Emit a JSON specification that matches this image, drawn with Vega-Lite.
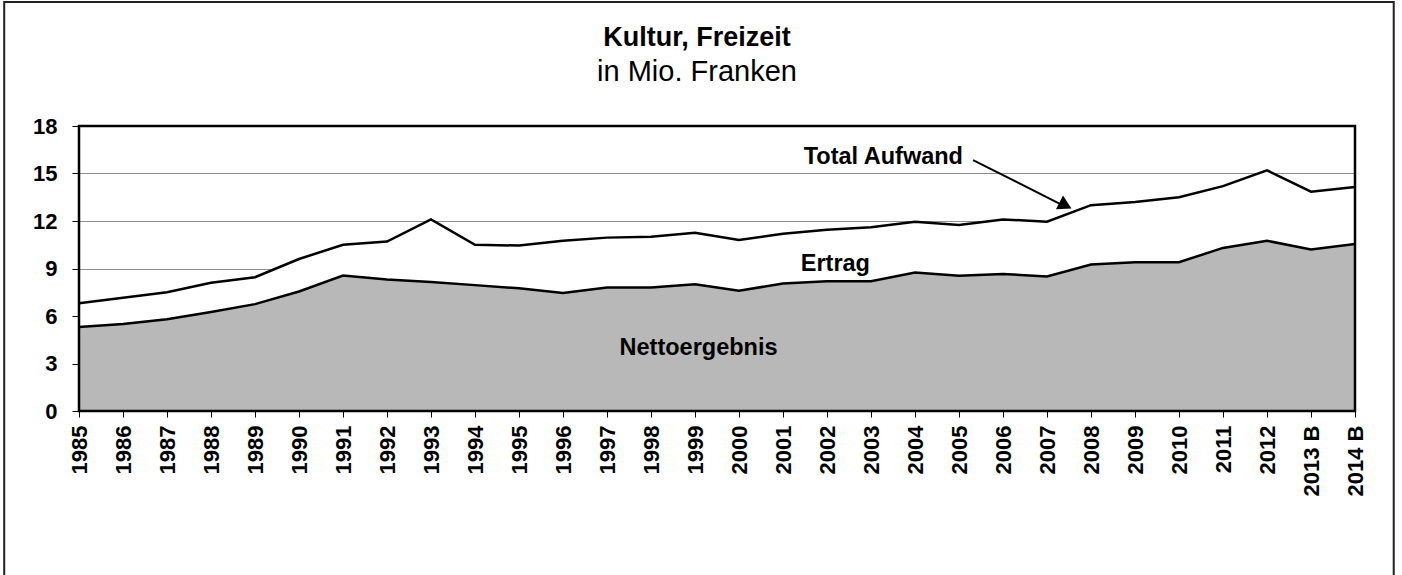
{
  "$schema": "https://vega.github.io/schema/vega-lite/v6.json",
  "width": 1276,
  "height": 285,
  "autosize": "none",
  "padding": {"left": 79, "top": 126, "right": 47, "bottom": 164},
  "background": "white",
  "title": {
    "text": "Kultur, Freizeit",
    "subtitle": "in Mio. Franken",
    "anchor": "middle",
    "dx": -20,
    "font": "Liberation Sans",
    "fontSize": 27,
    "fontWeight": "bold",
    "color": "black",
    "subtitleFont": "Liberation Sans",
    "subtitleFontSize": 29,
    "subtitleColor": "black",
    "subtitlePadding": 6,
    "offset": -87
  },
  "config": {
    "view": {"stroke": null},
    "font": "Liberation Sans",
    "axisX": {
      "labelFont": "Liberation Sans",
      "labelFontSize": 22,
      "labelFontWeight": "bold",
      "labelColor": "black",
      "labelPadding": 8,
      "labelOverlap": false,
      "labelFlush": false,
      "tickColor": "black",
      "tickSize": 6,
      "tickWidth": 1,
      "domain": false,
      "grid": false,
      "title": null
    },
    "axisY": {
      "grid": true,
      "gridColor": "#909090",
      "gridWidth": 1,
      "domain": false,
      "tickColor": "black",
      "tickSize": 7,
      "tickWidth": 1,
      "labelFont": "Liberation Sans",
      "labelFontSize": 22,
      "labelFontWeight": "bold",
      "labelColor": "black",
      "labelPadding": 15,
      "title": null
    }
  },
  "datasets": {
    "main": [
      {"year": 1985, "aufwand": 6.8, "netto": 5.3},
      {"year": 1986, "aufwand": 7.15, "netto": 5.5},
      {"year": 1987, "aufwand": 7.5, "netto": 5.8},
      {"year": 1988, "aufwand": 8.1, "netto": 6.25},
      {"year": 1989, "aufwand": 8.45, "netto": 6.75},
      {"year": 1990, "aufwand": 9.6, "netto": 7.55},
      {"year": 1991, "aufwand": 10.5, "netto": 8.55},
      {"year": 1992, "aufwand": 10.7, "netto": 8.3},
      {"year": 1993, "aufwand": 12.1, "netto": 8.15},
      {"year": 1994, "aufwand": 10.5, "netto": 7.95},
      {"year": 1995, "aufwand": 10.45, "netto": 7.75},
      {"year": 1996, "aufwand": 10.75, "netto": 7.45},
      {"year": 1997, "aufwand": 10.95, "netto": 7.8},
      {"year": 1998, "aufwand": 11.0, "netto": 7.8},
      {"year": 1999, "aufwand": 11.25, "netto": 8.0},
      {"year": 2000, "aufwand": 10.8, "netto": 7.6},
      {"year": 2001, "aufwand": 11.2, "netto": 8.05},
      {"year": 2002, "aufwand": 11.45, "netto": 8.2},
      {"year": 2003, "aufwand": 11.6, "netto": 8.2},
      {"year": 2004, "aufwand": 11.95, "netto": 8.75},
      {"year": 2005, "aufwand": 11.75, "netto": 8.55},
      {"year": 2006, "aufwand": 12.1, "netto": 8.65},
      {"year": 2007, "aufwand": 11.95, "netto": 8.5},
      {"year": 2008, "aufwand": 13.0, "netto": 9.25},
      {"year": 2009, "aufwand": 13.2, "netto": 9.4},
      {"year": 2010, "aufwand": 13.5, "netto": 9.4},
      {"year": 2011, "aufwand": 14.2, "netto": 10.3},
      {"year": 2012, "aufwand": 15.2, "netto": 10.75},
      {"year": 2013, "aufwand": 13.85, "netto": 10.2},
      {"year": 2014, "aufwand": 14.15, "netto": 10.55}
    ],
    "labels": [
      {"label": "Total Aufwand", "year": 2003.28, "value": 15.6},
      {"label": "Ertrag", "year": 2002.19, "value": 8.84},
      {"label": "Nettoergebnis", "year": 1999.08, "value": 3.54}
    ],
    "arrow": [
      {"x": 2005.32, "y": 15.85, "x2": 2007.35, "y2": 13.0}
    ],
    "arrowhead": [
      {"x": 2007.42, "y": 12.98}
    ],
    "plotframe": [
      {"x": 1985, "x2": 2014, "y": 0, "y2": 18}
    ],
    "outerframe": [
      {"x": 1983.3, "x2": 2014.88, "y": 25.83, "y2": -11}
    ]
  },
  "layer": [
    {
      "data": {"name": "main"},
      "mark": {"type": "area", "color": "white", "opacity": 1, "line": {"color": "black", "strokeWidth": 2.5}},
      "encoding": {
        "x": {
          "field": "year",
          "type": "quantitative",
          "title": null,
          "scale": {"domain": [1985, 2014], "nice": false, "zero": false},
          "axis": {
            "values": [1985,1986,1987,1988,1989,1990,1991,1992,1993,1994,1995,1996,1997,1998,1999,2000,2001,2002,2003,2004,2005,2006,2007,2008,2009,2010,2011,2012,2013,2014],
            "format": "d",
            "labelExpr": "datum.label + (datum.value >= 2013 ? ' B' : '')",
            "labelAngle": -90
          }
        },
        "y": {
          "field": "aufwand",
          "type": "quantitative",
          "title": null,
          "scale": {"domain": [0, 18], "nice": false},
          "axis": {"values": [0, 3, 6, 9, 12, 15, 18]}
        }
      }
    },
    {
      "data": {"name": "main"},
      "mark": {"type": "area", "color": "#b8b8b8", "opacity": 1, "line": {"color": "black", "strokeWidth": 2.5}},
      "encoding": {
        "x": {"field": "year", "type": "quantitative", "title": null},
        "y": {"field": "netto", "type": "quantitative", "title": null}
      }
    },
    {
      "data": {"name": "plotframe"},
      "mark": {"type": "rect", "fill": null, "fillOpacity": 0, "stroke": "black", "strokeWidth": 2.5},
      "encoding": {
        "x": {"field": "x", "type": "quantitative", "title": null},
        "x2": {"field": "x2"},
        "y": {"field": "y", "type": "quantitative", "title": null},
        "y2": {"field": "y2"}
      }
    },
    {
      "data": {"name": "outerframe"},
      "mark": {"type": "rect", "fill": null, "fillOpacity": 0, "stroke": "#222222", "strokeWidth": 2, "clip": false},
      "encoding": {
        "x": {"field": "x", "type": "quantitative", "title": null},
        "x2": {"field": "x2"},
        "y": {"field": "y", "type": "quantitative", "title": null},
        "y2": {"field": "y2"}
      }
    },
    {
      "data": {"name": "arrow"},
      "mark": {"type": "rule", "color": "black", "strokeWidth": 2},
      "encoding": {
        "x": {"field": "x", "type": "quantitative", "title": null},
        "y": {"field": "y", "type": "quantitative", "title": null},
        "x2": {"field": "x2"},
        "y2": {"field": "y2"}
      }
    },
    {
      "data": {"name": "arrowhead"},
      "mark": {"type": "point", "shape": "triangle-up", "filled": true, "color": "black", "opacity": 1, "size": 240, "angle": 117},
      "encoding": {
        "x": {"field": "x", "type": "quantitative", "title": null},
        "y": {"field": "y", "type": "quantitative", "title": null}
      }
    },
    {
      "data": {"name": "labels"},
      "mark": {"type": "text", "font": "Liberation Sans", "fontSize": 23.5, "fontWeight": "bold", "color": "black", "align": "center", "baseline": "alphabetic"},
      "encoding": {
        "x": {"field": "year", "type": "quantitative", "title": null},
        "y": {"field": "value", "type": "quantitative", "title": null},
        "text": {"field": "label"}
      }
    }
  ]
}
